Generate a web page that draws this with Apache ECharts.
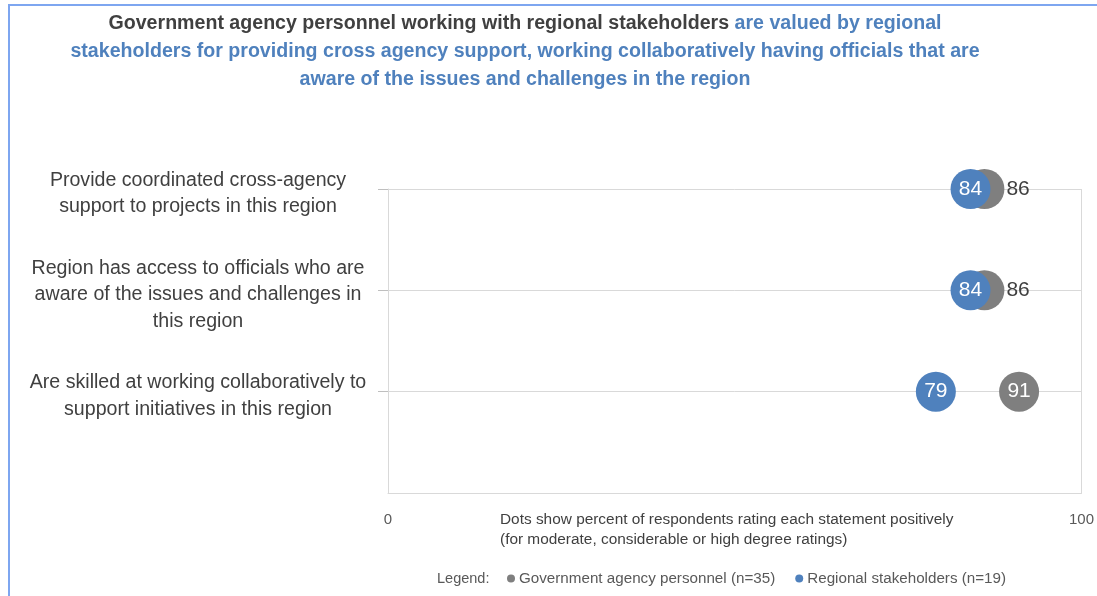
<!DOCTYPE html>
<html>
<head>
<meta charset="utf-8">
<script src="https://cdn.jsdelivr.net/npm/echarts@6/dist/echarts.min.js"></script>
<style>
  body { margin: 0; background: #fff; }
  #chart { width: 1097px; height: 596px; }
</style>
</head>
<body>
<div id="chart"></div>
<script>
// statements, top to bottom
let categories = [
  'Provide coordinated cross-agency\nsupport to projects in this region',
  'Region has access to officials who are\naware of the issues and challenges in\nthis region',
  'Are skilled at working collaboratively to\nsupport initiatives in this region'
];
let govt = [86, 86, 91];
let regional = [84, 84, 79];
let seriesNames = ['Government agency personnel (n=35)', 'Regional stakeholders (n=19)'];
let xTicks = [0, 100];

let grey = '#7f7f7f';
let blue = '#4f81bd';
let darkText = '#404040';
let font = 'Liberation Sans';

// extra empty slot at the bottom so the rows sit on the ticks
let yData = categories.concat(['']);

function dots(values, outsideIdx){
  return values.map(function(v, i){
    let item = { value: [v, categories[i]] };
    if(outsideIdx && outsideIdx.indexOf(i) >= 0){
      item.label = { position: 'right', distance: 2, color: darkText };
    }
    return item;
  });
}

let chart = echarts.init(document.getElementById('chart'));

let titleStyle = { fontSize: 19.6, fontWeight: 'bold', color: blue, fontFamily: font };

let option = {
  backgroundColor: '#fff',
  animation: false,
  title: [
    {
      left: 525, top: 14, padding: 0, textAlign: 'center',
      text: '{a|Government agency personnel working with regional stakeholders }{b|are valued by regional}',
      textStyle: {
        rich: {
          a: { fontSize: 19.6, fontWeight: 'bold', color: darkText, fontFamily: font },
          b: { fontSize: 19.6, fontWeight: 'bold', color: blue, fontFamily: font }
        }
      }
    },
    {
      left: 525, top: 42, padding: 0, textAlign: 'center',
      text: 'stakeholders for providing cross agency support, working collaboratively having officials that are',
      textStyle: titleStyle
    },
    {
      left: 525, top: 70, padding: 0, textAlign: 'center',
      text: 'aware of the issues and challenges in the region',
      textStyle: titleStyle
    },
    {
      left: 500, top: 510, padding: 0,
      text: 'Dots show percent of respondents rating each statement positively\n(for moderate, considerable or high degree ratings)',
      textStyle: { fontSize: 15.4, fontWeight: 'normal', color: darkText, lineHeight: 20, fontFamily: font }
    },
    {
      left: 437, top: 571, padding: 0,
      text: 'Legend:',
      textStyle: { fontSize: 14.5, fontWeight: 'normal', color: '#595959', fontFamily: font }
    }
  ],
  legend: {
    left: 507, top: 571, padding: 0,
    itemWidth: 8, itemHeight: 8, itemGap: 20,
    icon: 'circle',
    textStyle: { fontSize: 15.2, color: '#595959', fontFamily: font, padding: [0, 0, 0, -1] },
    data: seriesNames
  },
  grid: { left: 388, right: 14, top: 189, bottom: 103, containLabel: false },
  xAxis: {
    type: 'value',
    min: xTicks[0], max: xTicks[1], interval: 100,
    axisLine: { show: true, lineStyle: { color: '#d9d9d9' } },
    axisTick: { show: false },
    splitLine: { show: true, lineStyle: { color: '#d9d9d9' } },
    axisLabel: { margin: 19, fontSize: 15, color: '#595959', fontFamily: font }
  },
  yAxis: {
    type: 'category',
    inverse: true,
    boundaryGap: false,
    data: yData,
    axisLine: { show: true, lineStyle: { color: '#d9d9d9' } },
    axisTick: {
      show: true, length: 10,
      interval: function(i){ return i < categories.length; },
      lineStyle: { color: '#bfbfbf' }
    },
    splitLine: { show: true, lineStyle: { color: '#d9d9d9' } },
    axisLabel: {
      margin: 20, fontSize: 19.6, lineHeight: 26.5, color: darkText, align: 'center',
      fontFamily: font,
      padding: [0, 340, 0, 0],
      interval: 0,
      // small empty first line nudges the block down a few pixels
      formatter: function(v){
        if(!v) return '';
        return '{s|}\n' + v.split('\n').map(function(l){ return '{t|' + l + '}'; }).join('\n');
      },
      rich: {
        s: { height: 9, lineHeight: 9, fontSize: 1 },
        t: { fontSize: 19.6, lineHeight: 26.5, color: darkText, fontFamily: font }
      }
    }
  },
  graphic: [{
    type: 'rect', silent: true,
    shape: { x: 9, y: 5, width: 1200, height: 700 },
    style: { fill: 'none', stroke: '#7ea6f0', lineWidth: 2 }
  }],
  series: [
    {
      name: seriesNames[0],
      type: 'scatter',
      symbolSize: 40,
      itemStyle: { color: grey, opacity: 1 },
      label: {
        show: true, position: 'inside', color: '#fff', fontSize: 21, fontFamily: font,
        formatter: function(p){ return p.value[0]; }
      },
      data: dots(govt, [0, 1]),
      z: 2
    },
    {
      name: seriesNames[1],
      type: 'scatter',
      symbolSize: 40,
      itemStyle: { color: blue, opacity: 1 },
      label: {
        show: true, position: 'inside', color: '#fff', fontSize: 21, fontFamily: font,
        formatter: function(p){ return p.value[0]; }
      },
      data: dots(regional),
      z: 3
    }
  ]
};
chart.setOption(option);
</script>
</body>
</html>
